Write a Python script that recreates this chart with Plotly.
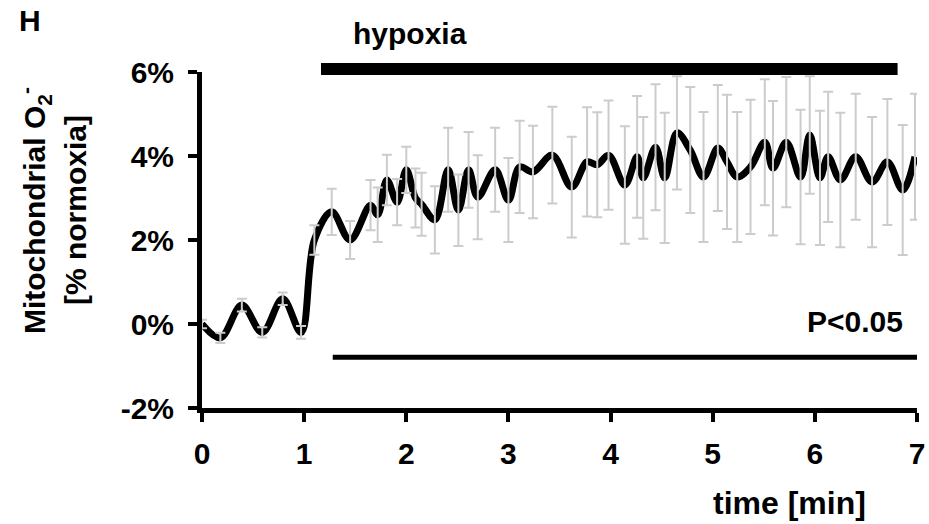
import plotly.graph_objects as go

# ---- data ----
time_min = [0.0, 0.18, 0.39, 0.59, 0.79, 0.97, 1.1, 1.27, 1.45, 1.65, 1.72, 1.81, 1.91, 2.0,
            2.09, 2.15, 2.28, 2.41, 2.51, 2.61, 2.70, 2.87, 3.0, 3.11, 3.24, 3.43, 3.62, 3.77,
            3.87, 3.98, 4.14, 4.26, 4.32, 4.44, 4.53, 4.65, 4.78, 4.91, 5.05, 5.14, 5.24, 5.37,
            5.51, 5.59, 5.72, 5.86, 5.95, 6.05, 6.13, 6.25, 6.40, 6.56, 6.71, 6.86, 6.98]
mito_o2 = [0.0, -0.33, 0.45, -0.2, 0.6, -0.2, 2.0, 2.67, 2.0, 2.83, 2.6, 3.43, 2.9, 3.67,
           3.0, 2.85, 2.48, 3.67, 2.71, 3.67, 3.02, 3.67, 2.95, 3.74, 3.62, 4.02, 3.26, 3.86,
           3.79, 4.02, 3.31, 3.98, 3.48, 4.21, 3.48, 4.55, 4.14, 3.5, 4.19, 3.86, 3.5, 3.74,
           4.33, 3.71, 4.33, 3.5, 4.5, 3.48, 3.98, 3.43, 3.98, 3.38, 3.86, 3.19, 3.98]
mito_err = [0.1, 0.12, 0.15, 0.12, 0.15, 0.15, 0.35, 0.55, 0.45, 0.6, 0.65, 0.6, 0.55, 0.55,
            0.7, 0.75, 0.8, 1.0, 0.85, 0.9, 1.0, 1.0, 1.0, 1.1, 1.1, 1.15, 1.2, 1.3,
            1.25, 1.3, 1.4, 1.45, 1.45, 1.5, 1.55, 1.35, 1.5, 1.55, 1.5, 1.6, 1.55, 1.6,
            1.5, 1.6, 1.55, 1.6, 1.4, 1.6, 1.55, 1.6, 1.5, 1.55, 1.5, 1.55, 1.5]

x_ticks = [0, 1, 2, 3, 4, 5, 6, 7]
x_ticktext = ["0", "1", "2", "3", "4", "5", "6", "7"]
y_ticks = [-2, 0, 2, 4, 6]
y_ticktext = ["-2%", "0%", "2%", "4%", "6%"]

hypoxia_start, hypoxia_end = 1.165, 6.81
signif_start, signif_end, signif_level = 1.28, 7.0, -0.79

FONT = "Liberation Sans"
fig = go.Figure()

fig.add_trace(go.Scatter(
    x=time_min, y=mito_o2, mode="lines",
    line=dict(color="black", width=7, shape="spline", smoothing=1.0),
    showlegend=False, hoverinfo="skip"))

fig.add_trace(go.Scatter(
    x=time_min, y=mito_o2, mode="markers",
    marker=dict(size=1, color="rgba(0,0,0,0)"),
    error_y=dict(type="data", array=mito_err, visible=True,
                 color="#cccccc", thickness=2, width=5),
    showlegend=False, hoverinfo="skip"))

# significance bar
fig.add_trace(go.Scatter(
    x=[signif_start, signif_end], y=[signif_level, signif_level], mode="lines",
    line=dict(color="black", width=5), showlegend=False, hoverinfo="skip"))

# hypoxia bar
fig.add_shape(type="line", xref="x", yref="paper",
              x0=hypoxia_start, x1=hypoxia_end, y0=1.009, y1=1.009,
              line=dict(color="black", width=12))

tickfont = dict(family=FONT, size=30, color="black", weight="bold")
fig.update_xaxes(range=[0, 7], tickvals=x_ticks, ticktext=x_ticktext,
                 showline=True, linewidth=5, linecolor="black",
                 ticks="outside", ticklen=9, tickwidth=4, tickcolor="black",
                 showgrid=False, zeroline=False, tickfont=tickfont,
                 ticklabelstandoff=6, automargin=False)
fig.update_yaxes(range=[-2, 6], tickvals=y_ticks, ticktext=y_ticktext,
                 showline=True, linewidth=5, linecolor="black",
                 ticks="outside", ticklen=9, tickwidth=4, tickcolor="black",
                 showgrid=False, zeroline=False, tickfont=tickfont,
                 ticklabelstandoff=8, automargin=False)

ann_font = dict(family=FONT, size=30, color="black", weight="bold")
annotations = [
    dict(text="H", x=-0.2406, y=1.152, xref="paper", yref="paper",
         xanchor="center", yanchor="middle", showarrow=False,
         font=dict(family=FONT, size=30, color="black", weight="bold")),
    dict(text="hypoxia", x=0.291, y=1.116, xref="paper", yref="paper",
         xanchor="center", yanchor="middle", showarrow=False, font=ann_font),
    dict(text="P<0.05", x=6.885, y=0.05, xref="x", yref="y",
         xanchor="right", yanchor="middle", showarrow=False, font=ann_font),
    dict(text="time [min]", x=0.821, y=-0.283, xref="paper", yref="paper",
         xanchor="center", yanchor="middle", showarrow=False,
         font=dict(family=FONT, size=32, color="black", weight="bold")),
    dict(text="Mitochondrial O<sub>2</sub><sup>-</sup>", x=-0.2336, y=0.589,
         xref="paper", yref="paper", xanchor="center", yanchor="middle",
         textangle=-90, showarrow=False, font=ann_font),
    dict(text="[% normoxia]", x=-0.1776, y=0.589,
         xref="paper", yref="paper", xanchor="center", yanchor="middle",
         textangle=-90, showarrow=False, font=ann_font),
]

fig.update_layout(
    width=929, height=524,
    margin=dict(l=202, r=12, t=72, b=116, autoexpand=False),
    plot_bgcolor="white", paper_bgcolor="white",
    annotations=annotations,
    font=dict(family=FONT),
)

fig.write_html("out.html")
